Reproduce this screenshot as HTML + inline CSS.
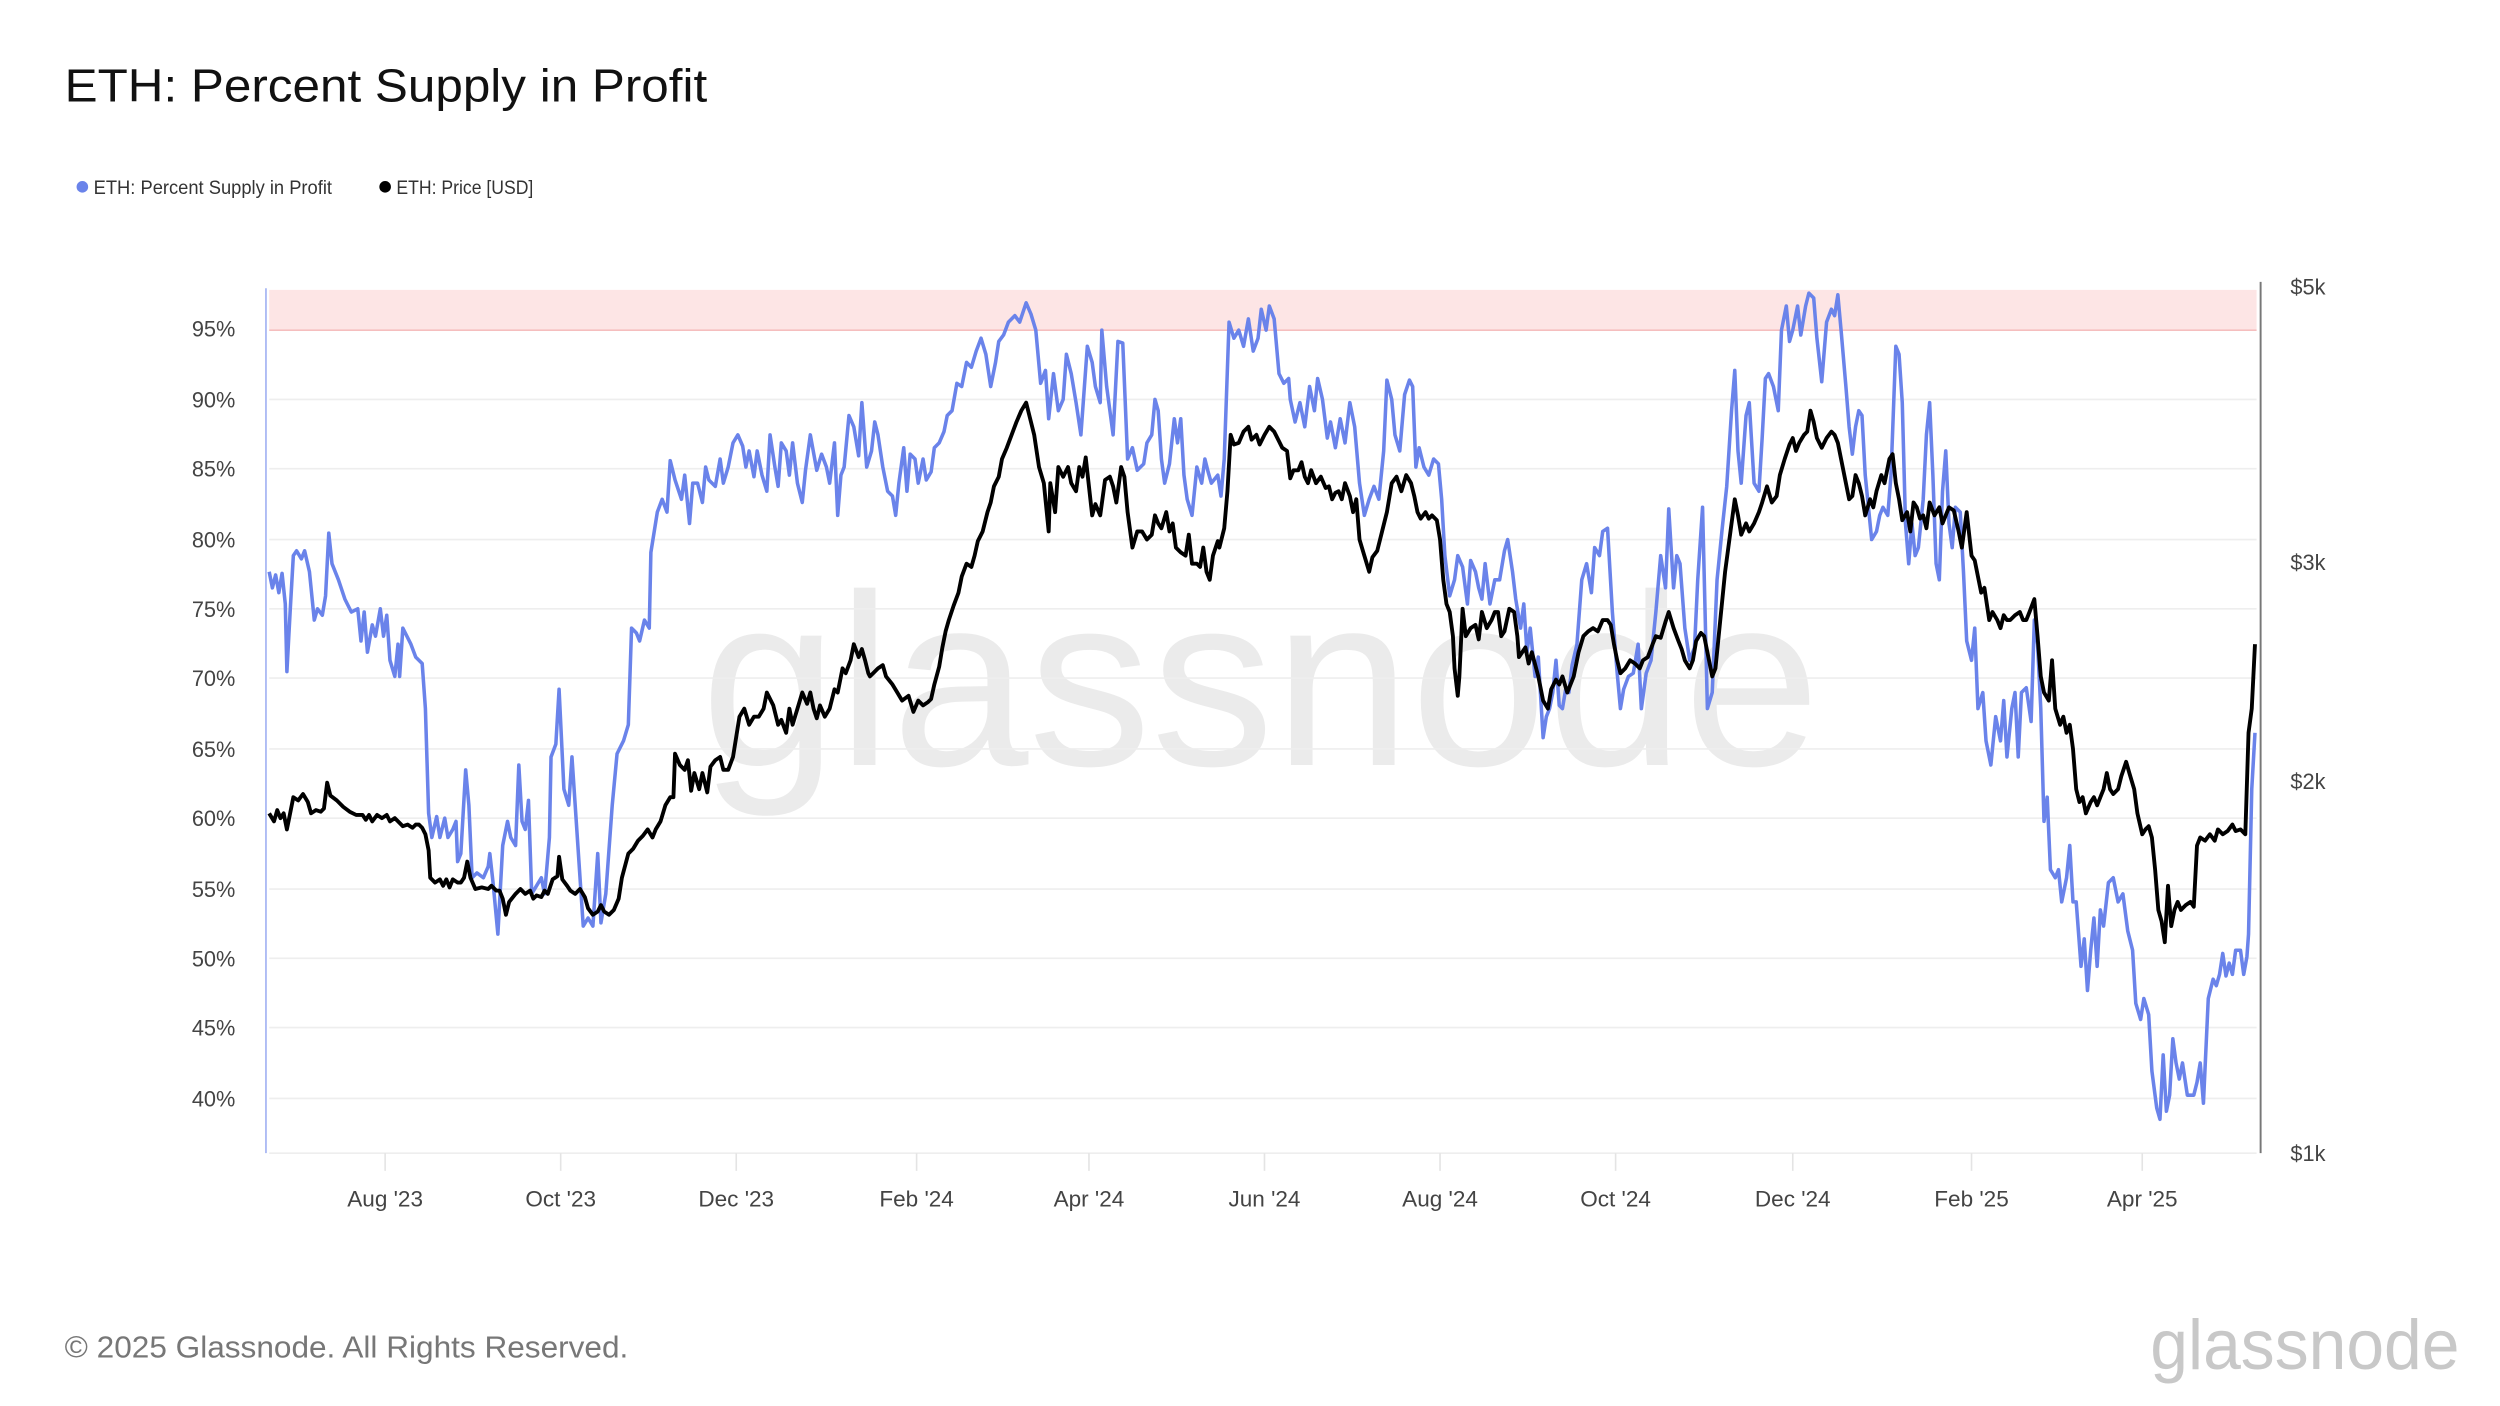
<!DOCTYPE html>
<html><head><meta charset="utf-8"><style>
html,body{margin:0;padding:0;background:#fff;}
svg{display:block;}
text{font-family:"Liberation Sans",sans-serif;}
</style></head><body>
<svg width="2500" height="1406" viewBox="0 0 1552 873" xmlns="http://www.w3.org/2000/svg">
<rect width="1552" height="873" fill="#fff"/>
<text x="40" y="63" font-size="29" fill="#111" textLength="399" lengthAdjust="spacingAndGlyphs">ETH: Percent Supply in Profit</text>
<circle cx="51" cy="116" r="3.6" fill="#6a83ea"/>
<text x="58" y="120.5" font-size="12" fill="#333" textLength="148" lengthAdjust="spacingAndGlyphs">ETH: Percent Supply in Profit</text>
<circle cx="239" cy="116" r="3.6" fill="#000"/>
<text x="246" y="120.5" font-size="12" fill="#333" textLength="85" lengthAdjust="spacingAndGlyphs">ETH: Price [USD]</text>
<!-- watermark -->
<text x="435" y="475" font-size="152" fill="#ebebeb" textLength="695" lengthAdjust="spacingAndGlyphs">glassnode</text>
<!-- pink band -->
<rect x="167" y="180" width="1234" height="25" fill="#fde5e5"/>
<line x1="167" y1="205" x2="1401" y2="205" stroke="#f2a8a8" stroke-width="0.7"/>
<!-- gridlines -->
<g stroke="#eeeeee" stroke-width="1">
<line x1="167" y1="248" x2="1401" y2="248"/><line x1="167" y1="291" x2="1401" y2="291"/>
<line x1="167" y1="335" x2="1401" y2="335"/><line x1="167" y1="378" x2="1401" y2="378"/>
<line x1="167" y1="421" x2="1401" y2="421"/><line x1="167" y1="465" x2="1401" y2="465"/>
<line x1="167" y1="508" x2="1401" y2="508"/><line x1="167" y1="552" x2="1401" y2="552"/>
<line x1="167" y1="595" x2="1401" y2="595"/><line x1="167" y1="638" x2="1401" y2="638"/>
<line x1="167" y1="682" x2="1401" y2="682"/><line x1="167" y1="716" x2="1401" y2="716"/>
</g>
<g stroke="#e4e4e4" stroke-width="1">
<line x1="239" y1="716" x2="239" y2="727"/><line x1="348" y1="716" x2="348" y2="727"/>
<line x1="457" y1="716" x2="457" y2="727"/><line x1="569" y1="716" x2="569" y2="727"/>
<line x1="676" y1="716" x2="676" y2="727"/><line x1="785" y1="716" x2="785" y2="727"/>
<line x1="894" y1="716" x2="894" y2="727"/><line x1="1003" y1="716" x2="1003" y2="727"/>
<line x1="1113" y1="716" x2="1113" y2="727"/><line x1="1224" y1="716" x2="1224" y2="727"/>
<line x1="1330" y1="716" x2="1330" y2="727"/>
</g>
<line x1="165" y1="179" x2="165" y2="716" stroke="#9fb0f2" stroke-width="1"/>
<line x1="1403.5" y1="175" x2="1403.5" y2="716" stroke="#777" stroke-width="1.2"/>
<g font-size="13.5" fill="#444" text-anchor="end">
<text x="146" y="209">95%</text><text x="146" y="253">90%</text><text x="146" y="296">85%</text>
<text x="146" y="340">80%</text><text x="146" y="383">75%</text><text x="146" y="426">70%</text>
<text x="146" y="470">65%</text><text x="146" y="513">60%</text><text x="146" y="557">55%</text>
<text x="146" y="600">50%</text><text x="146" y="643">45%</text><text x="146" y="687">40%</text>
</g>
<g font-size="13.5" fill="#444">
<text x="1422" y="183">$5k</text><text x="1422" y="354">$3k</text>
<text x="1422" y="490">$2k</text><text x="1422" y="721">$1k</text>
</g>
<g font-size="14" fill="#444" text-anchor="middle">
<text x="239" y="749">Aug '23</text><text x="348" y="749">Oct '23</text><text x="457" y="749">Dec '23</text>
<text x="569" y="749">Feb '24</text><text x="676" y="749">Apr '24</text><text x="785" y="749">Jun '24</text>
<text x="894" y="749">Aug '24</text><text x="1003" y="749">Oct '24</text><text x="1113" y="749">Dec '24</text>
<text x="1224" y="749">Feb '25</text><text x="1330" y="749">Apr '25</text>
</g>
<polyline fill="none" stroke="#6a83ea" stroke-width="2.2" stroke-linejoin="round" points="167,355 169,365 171,357 173,368 175,356 177,375 178,417 180,380 182,345 184,342 187,347 189,342 192,355 195,385 197,378 200,382 202,370 204,331 206,350 210,360 214,372 218,380 222,378 224,398 226,380 228,405 231,388 233,395 236,378 238,395 240,382 242,410 245,420 247,400 248,420 250,390 255,400 258,408 262,412 264,440 266,505 268,520 271,507 273,520 276,508 278,520 281,515 283,510 284,535 286,530 289,478 291,500 293,545 296,542 300,545 303,538 304,530 306,548 309,580 312,525 315,510 317,520 320,525 322,475 324,510 326,515 328,497 330,555 333,550 336,545 338,555 341,520 342,470 345,462 347,428 350,490 353,500 355,470 357,500 362,575 365,570 368,575 371,530 373,573 376,555 380,500 383,468 387,460 390,450 392,390 395,393 397,398 400,385 403,390 404,343 408,318 411,310 414,318 416,286 419,298 423,310 425,295 428,325 430,300 433,300 436,312 438,290 440,298 444,302 447,285 449,300 452,290 455,275 458,270 461,277 463,290 465,280 468,296 470,280 473,295 476,305 478,270 481,290 483,302 485,275 488,280 490,295 492,275 495,300 498,312 500,292 503,270 507,292 510,282 513,290 515,300 518,275 520,320 522,295 524,290 527,258 530,265 533,283 535,250 538,290 541,280 543,262 545,270 548,290 551,305 554,308 556,320 558,300 561,278 563,305 565,282 568,285 570,300 573,285 575,298 578,293 580,278 583,275 586,268 588,258 591,255 594,238 597,240 600,225 603,228 606,218 609,210 612,220 615,240 618,225 620,212 623,208 626,200 630,196 633,200 637,188 640,195 643,205 646,238 649,230 651,260 654,232 657,255 660,248 662,220 665,232 668,250 671,270 675,215 678,225 680,240 683,250 684,205 687,240 689,255 691,270 694,212 697,213 700,285 703,278 706,292 710,288 712,275 715,270 717,248 719,255 721,285 723,300 726,288 729,260 731,275 733,260 735,295 737,310 740,320 743,290 746,300 748,285 750,293 752,300 756,295 758,308 760,285 763,200 766,210 769,205 772,215 775,198 778,218 781,210 783,192 786,205 788,190 791,198 794,232 797,238 800,235 801,248 804,262 807,250 810,265 813,240 816,255 818,235 821,248 824,272 826,262 829,278 832,260 835,275 838,250 841,265 844,300 847,320 850,310 853,302 856,310 859,280 861,236 864,248 866,270 869,280 872,245 875,236 877,240 879,290 881,278 884,290 887,295 890,285 893,288 895,310 897,345 900,370 903,360 905,345 908,352 911,375 913,348 916,355 918,365 920,372 922,350 925,375 928,360 931,360 934,342 936,335 939,355 941,372 944,390 946,375 948,405 950,390 953,420 955,408 958,458 960,445 962,440 964,430 966,410 968,438 970,440 972,428 974,430 976,413 979,400 982,360 985,350 988,368 990,340 993,345 995,330 998,328 1001,380 1004,418 1006,440 1008,428 1011,420 1014,418 1017,400 1019,440 1022,418 1025,410 1028,380 1031,345 1034,365 1036,316 1039,365 1041,345 1043,350 1046,390 1049,410 1052,402 1054,360 1057,315 1060,440 1063,430 1066,360 1069,330 1072,302 1075,255 1077,230 1079,280 1081,300 1084,258 1086,250 1089,300 1092,305 1094,272 1096,235 1098,232 1101,240 1104,255 1106,205 1109,190 1111,212 1113,205 1116,190 1118,208 1121,190 1123,182 1126,185 1128,210 1131,237 1134,200 1137,192 1139,196 1141,183 1143,205 1146,240 1148,265 1150,282 1152,265 1154,255 1156,258 1158,295 1162,335 1165,330 1167,320 1169,315 1172,320 1174,295 1177,215 1179,220 1181,250 1183,325 1185,350 1187,325 1189,345 1191,340 1194,310 1196,270 1198,250 1200,295 1202,350 1204,360 1206,305 1208,280 1210,325 1212,340 1214,315 1217,318 1219,355 1221,398 1224,410 1226,390 1228,440 1231,430 1233,460 1236,475 1239,445 1242,460 1244,435 1246,470 1249,440 1251,430 1253,470 1255,430 1258,427 1261,448 1263,385 1265,400 1267,440 1269,510 1271,495 1273,540 1276,545 1278,540 1280,560 1283,545 1285,525 1287,560 1289,560 1292,600 1294,583 1296,615 1298,590 1300,570 1302,600 1304,565 1306,575 1309,548 1312,545 1315,560 1318,555 1321,578 1324,590 1326,623 1329,633 1331,620 1334,630 1336,665 1339,688 1341,695 1343,655 1345,690 1347,680 1349,645 1351,660 1353,670 1355,660 1358,680 1362,680 1364,672 1366,660 1368,685 1371,620 1374,608 1376,612 1378,605 1380,592 1382,606 1384,598 1386,605 1388,590 1391,590 1393,605 1395,594 1396,580 1398,490 1400,455"/>
<polyline fill="none" stroke="#000" stroke-width="2.4" stroke-linejoin="round" points="167,505 170,510 172,503 174,508 176,505 178,515 180,505 182,495 185,497 188,493 191,498 193,505 196,503 199,504 201,502 203,486 205,494 209,497 213,501 217,504 221,506 225,506 227,509 229,506 231,510 234,506 237,508 240,506 242,510 245,508 247,510 250,513 253,512 256,514 258,512 260,512 262,514 264,518 266,528 267,545 270,548 273,546 275,550 277,546 279,551 281,546 284,548 286,548 288,545 290,535 292,545 295,552 299,551 303,552 305,550 308,553 310,553 312,558 314,568 316,560 320,555 323,552 326,555 329,553 331,558 333,556 336,557 338,553 340,555 343,546 346,544 347,532 349,546 352,550 354,553 357,555 360,552 363,557 365,564 368,568 371,566 373,562 375,566 378,568 381,565 384,558 386,545 390,530 393,527 396,522 399,519 402,515 405,520 407,515 410,510 413,500 416,495 418,495 419,468 422,475 425,478 427,472 429,491 431,480 434,490 436,480 439,492 441,476 444,472 447,470 449,478 452,478 455,470 459,445 462,440 465,450 468,445 471,445 474,440 476,430 480,438 483,450 485,447 488,455 490,440 492,450 495,440 498,430 501,437 503,430 505,440 507,446 509,438 512,445 515,440 518,428 520,430 523,415 525,418 528,410 530,400 533,408 535,403 537,410 539,418 540,420 542,418 545,415 548,413 550,420 554,425 557,430 560,435 564,432 567,442 570,435 573,438 576,436 578,434 580,425 583,414 585,402 587,392 589,385 592,376 595,368 597,358 600,350 603,352 605,345 607,336 610,330 613,318 615,312 617,302 620,296 622,285 625,278 628,270 631,262 634,255 637,250 640,262 642,270 645,290 648,300 651,330 652,300 655,318 657,290 660,296 663,290 665,300 668,305 670,290 672,296 674,284 676,302 678,320 680,313 683,320 686,298 689,296 691,302 693,312 696,290 698,296 700,318 703,340 706,330 709,330 712,335 715,332 717,320 719,325 721,328 724,318 726,330 728,325 730,340 733,343 736,345 738,332 740,350 743,350 745,352 747,340 749,355 751,360 753,345 756,336 757,340 760,328 762,305 764,270 766,276 769,275 772,268 775,265 777,273 780,270 782,276 785,270 788,265 791,268 794,274 796,278 799,280 801,297 803,292 806,292 808,287 810,296 812,300 814,292 817,300 820,296 823,303 825,302 827,310 829,306 831,305 833,310 835,300 838,308 840,318 842,310 844,335 847,345 850,355 852,346 855,342 858,330 861,318 864,300 867,296 870,305 873,295 876,300 878,308 880,318 882,322 885,318 887,322 889,320 892,323 894,335 896,360 898,375 900,380 902,395 903,415 905,432 906,420 908,378 910,395 913,390 916,388 918,397 920,380 923,390 926,385 928,380 930,380 932,395 934,392 937,378 940,380 942,395 943,408 945,405 947,402 949,412 951,405 955,420 958,435 961,440 963,428 966,422 968,425 970,420 973,430 975,425 977,420 980,405 983,395 986,392 989,390 992,392 995,385 998,385 1000,388 1002,400 1004,410 1006,418 1009,415 1012,410 1015,412 1018,415 1020,410 1023,408 1026,400 1028,395 1031,396 1034,386 1036,380 1039,390 1042,398 1044,403 1046,410 1049,415 1051,410 1053,398 1056,393 1058,395 1060,405 1063,420 1065,415 1067,395 1069,375 1071,355 1073,340 1075,325 1077,310 1079,320 1081,332 1084,325 1086,330 1089,325 1092,318 1094,312 1097,302 1100,312 1103,308 1105,295 1108,285 1111,276 1113,272 1115,280 1117,275 1120,270 1122,268 1124,255 1126,262 1128,272 1131,278 1134,272 1137,268 1139,270 1141,275 1143,285 1146,300 1148,310 1150,308 1152,295 1154,300 1156,308 1158,320 1161,310 1163,315 1165,305 1168,295 1170,300 1173,285 1175,282 1177,300 1179,310 1181,323 1184,318 1186,330 1188,312 1190,315 1192,322 1194,320 1196,328 1198,312 1201,320 1204,315 1206,325 1208,320 1210,315 1213,317 1216,330 1218,340 1221,318 1224,345 1226,348 1228,358 1230,368 1232,365 1235,385 1237,380 1240,385 1242,390 1244,382 1246,385 1248,385 1251,382 1254,380 1256,385 1258,385 1260,380 1263,372 1265,395 1267,420 1269,430 1272,435 1274,410 1276,440 1279,450 1281,445 1283,455 1285,450 1287,465 1289,490 1291,498 1293,495 1295,505 1298,498 1300,495 1302,500 1304,495 1306,490 1308,480 1310,490 1312,493 1315,490 1317,482 1320,473 1322,480 1325,490 1327,505 1330,518 1332,515 1334,513 1336,520 1338,540 1340,565 1342,572 1344,585 1346,550 1348,575 1350,565 1352,560 1354,565 1357,562 1360,560 1362,563 1364,525 1366,520 1369,522 1372,518 1375,522 1377,515 1380,518 1383,516 1386,512 1388,516 1391,515 1394,518 1396,455 1398,440 1400,400"/>
<text x="40" y="843" font-size="19" fill="#777" textLength="350" lengthAdjust="spacingAndGlyphs">© 2025 Glassnode. All Rights Reserved.</text>
<text x="1335" y="850" font-size="44" fill="#c8c8c8" textLength="192" lengthAdjust="spacingAndGlyphs">glassnode</text>
</svg>
</body></html>
